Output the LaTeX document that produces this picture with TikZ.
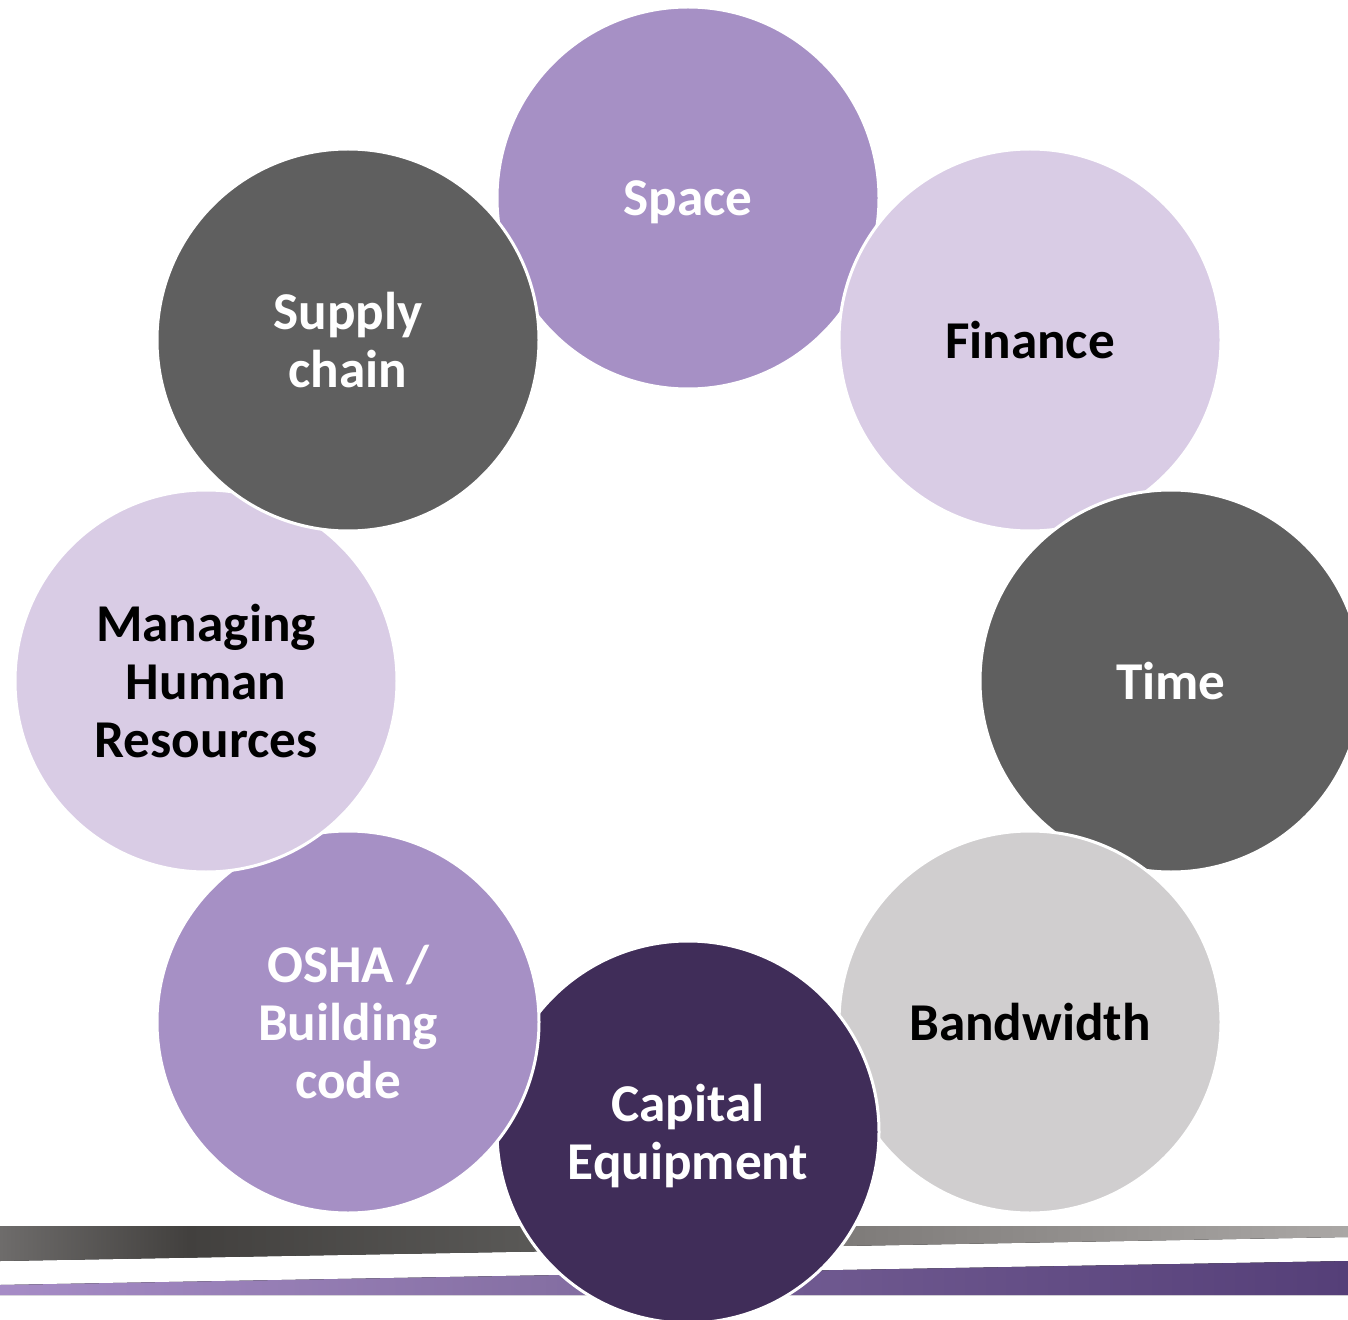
\documentclass[tikz,border=0pt]{standalone}
\usepackage{fontspec}
\setmainfont{Carlito}
\definecolor{midpurple}{HTML}{A690C5}
\definecolor{lavender}{HTML}{D9CCE5}
\definecolor{darkgray}{HTML}{5F5F5F}
\definecolor{lightgray}{HTML}{D0CECF}
\definecolor{deeppurple}{HTML}{402D59}
% stops of the footer gradients
\definecolor{grayA}{HTML}{6E6C6B}
\definecolor{grayB}{HTML}{42403E}
\definecolor{grayC}{HTML}{5A5957}
\definecolor{grayD}{HTML}{7D7A78}
\definecolor{grayE}{HTML}{AAA7A5}
\definecolor{purpA}{HTML}{A68CC6}
\definecolor{purpB}{HTML}{8670A4}
\definecolor{purpC}{HTML}{6F5990}
\definecolor{purpD}{HTML}{553F78}
% horizontal gradients for the two footer bars (25bp..75bp spans the bar)
\pgfdeclarehorizontalshading{graybar}{100bp}{
  color(0bp)=(grayA); color(25bp)=(grayA);
  color(32bp)=(grayB); color(45bp)=(grayC);
  color(56bp)=(grayD); color(75bp)=(grayE); color(100bp)=(grayE)}
\pgfdeclarehorizontalshading{purplebar}{100bp}{
  color(0bp)=(purpA); color(25bp)=(purpA);
  color(45bp)=(purpB); color(55bp)=(purpC);
  color(75bp)=(purpD); color(100bp)=(purpD)}
\begin{document}
\begin{tikzpicture}[x=0.5pt,y=-0.5pt,
  bubble/.style={circle, draw=white, line width=1.5pt, minimum size=191pt,
    inner sep=0pt, align=center, text depth=0pt,
    font=\bfseries\fontsize{26.6}{29}\selectfont},
  lighttext/.style={text=white},
  darktext/.style={text=black}]
\useasboundingbox (0,0) rectangle (1348,1320);
\clip (0,0) rectangle (1348,1320);

% footer bars
\fill[shading=graybar] (0,1226) -- (1348,1226) -- (1348,1237) -- (0,1261) -- cycle;
\fill[shading=purplebar] (0,1285) -- (1348,1261) -- (1348,1295) -- (0,1295) -- cycle;

% ring of circles, each drawn over the previous one
\node[bubble, fill=midpurple, lighttext] (space) at (688,198) {Space};
\node[bubble, fill=lavender, darktext] (finance) at (1030,340) {Finance};
\node[bubble, fill=darkgray, lighttext] (time) at (1171,681) {Time};
\node[bubble, fill=lightgray, darktext] (bandwidth) at (1030,1022) {Bandwidth};
\node[bubble, fill=deeppurple, lighttext] (capital) at (688,1132) {Capital\\Equipment};
\node[bubble, fill=midpurple, lighttext] (osha) at (348,1022) {OSHA /\\Building\\code};
\node[bubble, fill=lavender, darktext] (hr) at (206,681) {Managing\\Human\\Resources};
\node[bubble, fill=darkgray, lighttext] (supply) at (348,340) {Supply\\chain};
\end{tikzpicture}
\end{document}
